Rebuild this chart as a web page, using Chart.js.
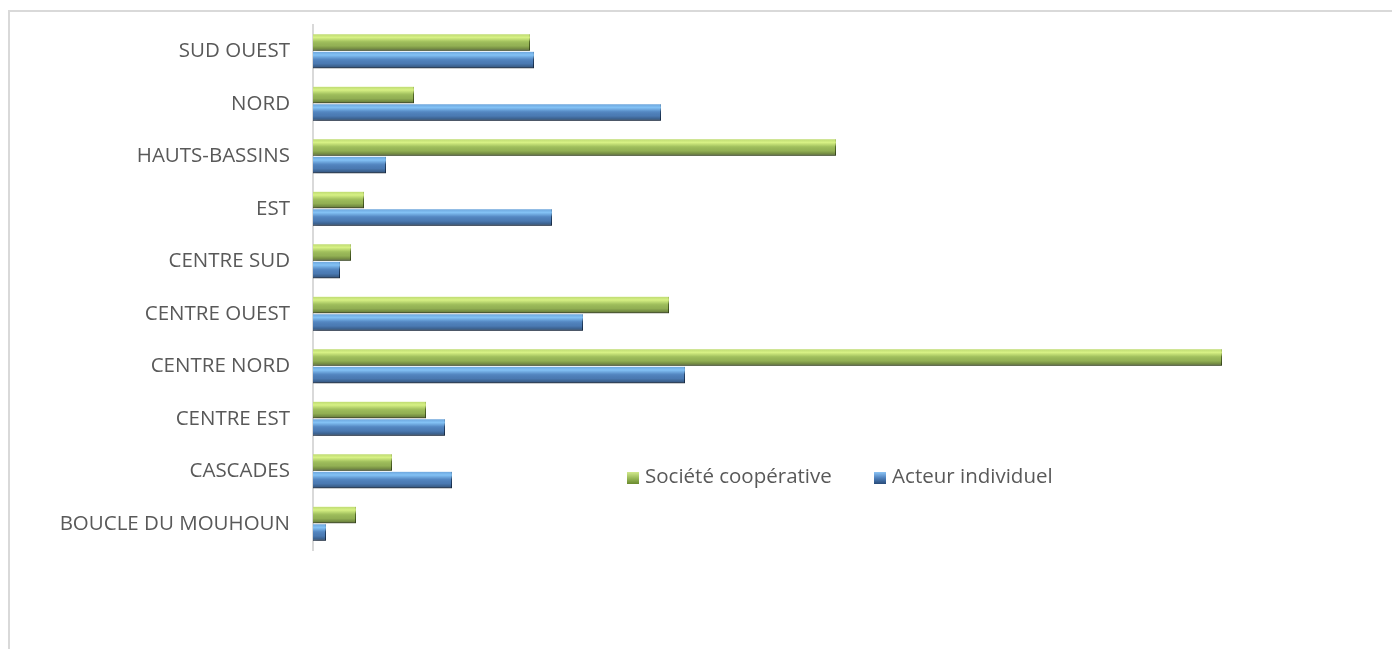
<!DOCTYPE html>
<html>
<head>
<meta charset="utf-8">
<script src="https://cdn.jsdelivr.net/npm/chart.js@4.4.1/dist/chart.umd.min.js"></script>
<style>
  html, body { margin: 0; padding: 0; background: #fff; }
  #cadre { position: absolute; left: 8px; top: 10px; width: 1500px; height: 800px; border: 2px solid #d9d9d9; box-sizing: border-box; }
  #zone { position: absolute; left: 0; top: 0; width: 1392px; height: 649px; }
  #legende { position: absolute; left: 627px; top: 461px; font-family: "Open Sans", sans-serif; font-size: 20.5px; color: #595959; white-space: nowrap; }
  #legende span.item { margin-right: 37px; }
  #legende span.carre { display: inline-block; width: 12px; height: 12px; margin-right: 6px; vertical-align: -1px; }
</style>
</head>
<body>
<div id="cadre"></div>
<div id="zone"><canvas id="myChart" width="1392" height="649"></canvas></div>
<div id="legende">
  <span class="item"><span class="carre" style="background: linear-gradient(#d2e98c, #9bbb59 50%, #6a8a2e);"></span>Société coopérative</span>
  <span class="item"><span class="carre" style="background: linear-gradient(#8cc4f5, #4f81bd 50%, #274a78);"></span>Acteur individuel</span>
</div>
<script>
const regions = ['SUD OUEST', 'NORD', 'HAUTS-BASSINS', 'EST', 'CENTRE SUD', 'CENTRE OUEST', 'CENTRE NORD', 'CENTRE EST', 'CASCADES', 'BOUCLE DU MOUHOUN'];
const societeCooperative = [21.7, 10.1, 52.3, 5.1, 3.8, 35.6, 90.9, 11.3, 7.9, 4.3];
const acteurIndividuel = [22.1, 34.8, 7.3, 23.9, 2.7, 27.0, 37.2, 13.2, 13.9, 1.3];
const reflets = ['rgba(225,250,140,', 'rgba(140,205,255,'];
const ctx = document.getElementById('myChart');

// ombre portée sous les barres + effet biseau
const ombre = {
    id: 'ombre',
    beforeDatasetsDraw(chart) {
        const c = chart.ctx;
        c.save();
        c.shadowColor = 'rgba(0,0,0,0.28)';
        c.shadowBlur = 4;
        c.shadowOffsetX = 2;
        c.shadowOffsetY = 2;
    },
    afterDatasetsDraw(chart) {
        const c = chart.ctx;
        c.restore();
        chart.data.datasets.forEach((ds, i) => {
            chart.getDatasetMeta(i).data.forEach(bar => {
                const haut = bar.y - bar.height / 2;
                const g = c.createLinearGradient(0, haut, 0, haut + bar.height);
                g.addColorStop(0, reflets[i] + '0.5)');
                g.addColorStop(0.2, reflets[i] + '0.85)');
                g.addColorStop(0.45, reflets[i] + '0.1)');
                g.addColorStop(0.7, 'rgba(0,0,0,0.05)');
                g.addColorStop(1, 'rgba(0,0,0,0.38)');
                c.save();
                c.fillStyle = g;
                c.fillRect(bar.base, haut, bar.x - bar.base, bar.height);
                c.restore();
            });
        });
    }
};

new Chart(ctx, {
    type: 'bar',
    data: {
        labels: regions,
        datasets: [
            { label: 'Société coopérative', data: societeCooperative, backgroundColor: '#9bbb59', borderColor: '#5f7a2c', borderWidth: { top: 0, right: 1, bottom: 1, left: 0 }, borderSkipped: false },
            { label: 'Acteur individuel', data: acteurIndividuel, backgroundColor: '#4f81bd', borderColor: '#274a78', borderWidth: { top: 0, right: 1, bottom: 1, left: 0 }, borderSkipped: false }
        ]
    },
    options: {
        indexAxis: 'y',
        responsive: false,
        animation: false,
        categoryPercentage: 0.67,
        barPercentage: 0.94,
        layout: { padding: { top: 25, bottom: 99, right: 79, left: 0 } },
        plugins: { legend: { display: false }, tooltip: { enabled: false } },
        scales: {
            x: { display: false, min: 0, max: 100 },
            y: {
                afterFit(scale) {
                    scale.width = 313;
                    scale.paddingTop = 0;
                    scale.paddingBottom = 0;
                },
                grid: { display: false, drawTicks: false },
                border: { display: true, color: '#d9d9d9', width: 2 },
                ticks: { padding: 23, color: '#595959', font: { family: 'Open Sans', size: 20.5 } }
            }
        }
    },
    plugins: [ombre]
});
</script>
</body>
</html>
